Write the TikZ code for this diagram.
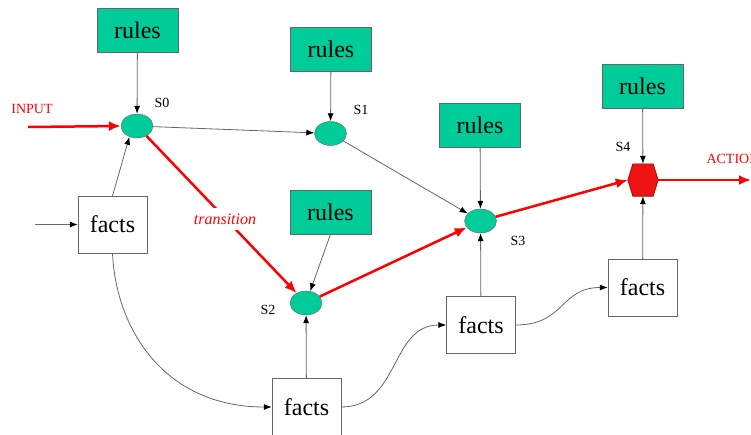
\documentclass[tikz,border=0pt]{standalone}
\usepackage{fontspec}
\setmainfont{Liberation Serif}
\usetikzlibrary{arrows.meta,shapes.geometric,calc}
\definecolor{tealfill}{RGB}{0,204,153}
\definecolor{redA}{RGB}{255,0,0}
\definecolor{hexred}{RGB}{238,20,20}
\begin{document}
\begin{tikzpicture}[x=1pt,y=-1pt,
  rulesbox/.style={draw=black!60, fill=tealfill, minimum width=81pt, minimum height=44pt, inner sep=0pt, font=\fontsize{24}{24}\selectfont},
  factsbox/.style={draw=black!60, fill=white, minimum width=69pt, minimum height=57pt, inner sep=0pt, font=\fontsize{24}{24}\selectfont},
  state/.style={ellipse, draw=black!60, fill=tealfill, minimum width=32pt, minimum height=24pt, inner sep=0pt},
  hexnode/.style={draw=none, minimum width=30pt, minimum height=32pt, inner sep=0pt},
  slabel/.style={font=\fontsize{14}{14}\selectfont},
  redlabel/.style={text=redA, font=\fontsize{14}{14}\selectfont},
  translabel/.style={text=redA, fill=white, inner xsep=1pt, inner ysep=6pt, font=\fontsize{16}{16}\selectfont\itshape},
  conn/.style={draw=black!60, line width=0.8pt, -{Latex[length=8pt,width=6pt,color=black]}},
  redarrow/.style={draw=redA, line width=2.5pt, -{Latex[length=12pt,width=10pt]}},
]
\useasboundingbox (0,0) rectangle (751,434);

% rules boxes
\node[rulesbox] (r0) at (137.5,30) {rules};
\node[rulesbox] (r1) at (331,49) {rules};
\node[rulesbox] (r3) at (480,125) {rules};
\node[rulesbox] (r4) at (642.5,86) {rules};
\node[rulesbox] (r2) at (330.5,212) {rules};

% facts boxes
\node[factsbox] (f0) at (112.5,224.5) {facts};
\node[factsbox] (fb) at (306.5,407) {facts};
\node[factsbox] (fm) at (481,325) {facts};
\node[factsbox] (fr) at (642.5,287.5) {facts};

% states
\node[state] (s0) at (137,126) {};
\node[state] (s1) at (330.5,133.5) {};
\node[state] (s2) at (306,303) {};
\node[state] (s3) at (480.5,221) {};
\node[hexnode] (s4) at (643,180) {};
\draw[fill=hexred, draw=red!60!black, line width=0.6pt]
  (s4.west) -- ([xshift=5pt]s4.north west) -- ([xshift=-5pt]s4.north east)
  -- (s4.east) -- ([xshift=-5pt]s4.south east) -- ([xshift=5pt]s4.south west) -- cycle;

% state labels
\node[slabel] (l0) at (162,103) {S0};
\node[slabel] (l1) at (361,110) {S1};
\node[slabel] (l2) at (268,310) {S2};
\node[slabel] (l3) at (518,241) {S3};
\node[slabel] (l4) at (623,147) {S4};

% rules -> states
\draw[conn] (r0) -- (s0);
\draw[conn] (r1) -- (s1);
\draw[conn] (r3) -- (s3);
\draw[conn] (r4) -- (s4);
\draw[conn] (r2.south) -- (s2);

% state to state (thin)
\draw[conn] (s0) -- (s1);
\draw[conn] (s1) -- (s3);

% facts -> states
\draw[conn] (f0.north) -- (s0.235);
\draw[conn] (fb) -- (s2);
\draw[conn] (fm) -- (s3);
\draw[conn] (fr) -- (s4);

% facts chain
\coordinate (fin) at (35,224.5);
\draw[conn] (fin) -- (f0);
\draw[conn] (f0.south) .. controls (116,330) and (165,407) .. (fb.west);
\draw[conn] (fb.east) .. controls (400,407) and (390,325) .. (fm.west);
\draw[conn] (fm.east) .. controls (565,325) and (560,287.5) .. (fr.west);

% red path
\coordinate (inp) at (28,127);
\node[redlabel] (inlbl) at (32,109) {INPUT};
\draw[redarrow] (inp) -- (s0.west);
\draw[redarrow] (s0) -- (s2);
\node[translabel] (trans) at (225,219) {transition};
\draw[redarrow] (s2) -- (s3);
\draw[redarrow] (s3) -- (s4.west);
\coordinate (act) at (751,180);
\draw[redarrow] (s4.east) -- (act);
\node[redlabel, anchor=west] (actlbl) at (703,159) {ACTION};
\end{tikzpicture}
\end{document}
